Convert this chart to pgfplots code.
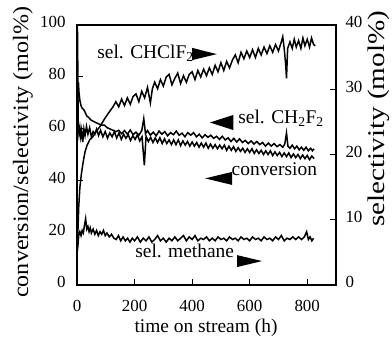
\documentclass[border=0pt]{standalone}
\usepackage{fontspec}
\setmainfont{Liberation Serif}
\usepackage{pgfplots}
\pgfplotsset{compat=1.18}
\begin{document}
\begin{tikzpicture}
\path[use as bounding box] (-77bp,-60bp) rectangle (315bp,285bp);
\begin{axis}[
  at={(0,0)}, anchor=south west,
  width=259bp, height=260bp, scale only axis,
  xmin=0, xmax=900, ymin=0, ymax=100,
  xtick={0,200,400,600,800}, ytick={0,20,40,60,80,100},
  tick pos=left, tick align=inside, major tick length=6bp,
  axis line style={line width=1.2bp},
  every tick/.style={black, line width=1bp},
  /pgf/number format/assume math mode=true,
  ticklabel style={font=\fontsize{17}{20}\selectfont},
  xticklabel style={yshift=-12bp},
  yticklabel style={xshift=-8bp, yshift=3.5bp},
  clip=false,
]
% sel. CH2F2 (left axis)
\addplot[black, line width=1.5bp] coordinates {
(2,70) (3,76) (5,78) (7,74) (10,71) (14,69) (18,68) (23,67.5) (28,66.5) (34,65) (40,64.5) (48,63.5) (56,63) (65,62.5) (75,62) (85,61.5) (95,61.5) (105,60.5) (115,60) (125,59.5) (135,59) (145,59.5)
(155,58.2) (165,59.4) (175,58.0) (185,59.6) (195,57.8) (205,58.8) (215,57.6) (225,59.4) (232,64) (238,58.2) (245,59.4) (255,57.6) (265,58.8) (275,57.4) (285,59.2) (295,58.0) (305,59.0) (315,57.4) (325,58.6) (335,57.8) (345,59.2) (355,57.6) (365,58.4) (375,57.0) (385,58.6) (395,57.6) (405,58.6) (415,57.0) (425,58.0) (435,56.6) (445,57.8) (455,56.8) (465,57.6) (475,56.4) (485,57.2) (495,56.0) (505,57.2) (515,55.8) (525,56.6) (535,55.2) (545,56.4) (555,55.0) (565,56.2) (575,54.8) (585,55.6) (595,54.4) (605,55.4) (615,54.2) (625,55.2) (635,54.0) (645,54.8) (655,53.4) (665,54.6) (675,53.4) (685,54.4) (695,53.2) (705,54.0) (715,53.0) (722,54.2) (728,58.5) (733,53.4) (740,52.6) (748,53.8) (756,52.4) (764,53.4) (772,52.0) (780,53.0) (788,51.8) (796,53.0) (804,51.6) (812,52.6) (818,51.6) (824,52.4)
};
% conversion (left axis)
\addplot[black, line width=1.5bp] coordinates {
(0,100) (2,97) (4,62) (7,58) (10,60.5) (13,57) (16,59.5) (20,55) (24,60) (28,57.5) (33,61) (38,58) (44,60.5) (50,57) (56,59) (62,58) (68,60) (75,57.5) (82,59.5) (90,57) (98,59) (106,56.5) (114,58.5) (122,57) (130,59) (138,56.5) (146,58.5) (154,56.0) (162,58.0) (170,56.4) (178,57.8) (186,55.6) (194,57.4) (202,56.0) (210,57.8) (218,55.4) (226,57.0) (234,46) (240,57.2) (248,55.2) (256,56.8) (264,54.8) (272,56.6) (280,54.8) (288,56.6) (296,54.4) (304,56.2) (312,54.4) (320,55.8) (328,54.0) (336,55.8) (344,54.0) (352,55.8) (360,53.6) (368,55.4) (376,53.8) (384,55.2) (392,53.4) (400,55.0) (408,53.4) (416,54.8) (424,53.0) (432,54.6) (440,53.0) (448,54.6) (456,52.6) (464,54.2) (472,52.6) (480,54.0) (488,52.4) (496,53.8) (504,52.4) (512,53.8) (520,51.8) (528,53.4) (536,51.8) (544,53.2) (552,51.4) (560,52.8) (568,51.4) (576,52.6) (584,51.0) (592,52.4) (600,51.0) (608,52.4) (616,50.6) (624,52.0) (632,50.6) (640,51.8) (648,50.2) (656,51.6) (664,50.2) (672,51.6) (680,49.8) (688,51.2) (696,49.8) (704,51.0) (712,49.4) (720,50.8) (728,49.4) (736,50.8) (744,49.0) (752,50.4) (760,49.0) (768,50.2) (776,48.6) (784,50.0) (792,48.6) (800,49.8) (808,48.2) (816,49.6) (824,48.6)
};
% annotations
\node[anchor=base west, inner sep=0, font=\fontsize{19.5}{22}\selectfont] at (axis cs:70,87.3) {sel. CHClF\textsubscript{2}};
\fill (axis cs:400,91.2) -- (axis cs:400,86.5) -- (axis cs:486,88.8) -- cycle;
\node[anchor=base west, inner sep=0, font=\fontsize{19.5}{22}\selectfont] at (axis cs:560,62.3) {sel. CH\textsubscript{2}F\textsubscript{2}};
\fill (axis cs:462,62.5) -- (axis cs:543,65.4) -- (axis cs:543,59.6) -- cycle;
\node[anchor=base west, inner sep=0, font=\fontsize{19.5}{22}\selectfont] at (axis cs:537,42.3) {conversion};
\fill (axis cs:445,41) -- (axis cs:539,43.5) -- (axis cs:539,38.5) -- cycle;
\node[anchor=base west, inner sep=0, font=\fontsize{19.5}{22}\selectfont] at (axis cs:202,10.4) {sel. methane};
\fill (axis cs:556,11.5) -- (axis cs:556,6.9) -- (axis cs:643,9.2) -- cycle;
\end{axis}
\begin{axis}[
  at={(0,0)}, anchor=south west,
  width=259bp, height=260bp, scale only axis,
  xmin=0, xmax=900, ymin=0, ymax=40,
  axis x line=none, axis y line*=right,
  ytick={0,10,20,30,40},
  tick align=inside, major tick length=6bp,
  axis line style={line width=1.2bp},
  every tick/.style={black, line width=1bp},
  /pgf/number format/assume math mode=true,
  ticklabel style={font=\fontsize{17}{20}\selectfont},
  yticklabel style={xshift=6bp, yshift=3bp},
  clip=false,
]
% sel. CHClF2 (right axis)
\addplot[black, line width=1.5bp] coordinates {
(0,4.8) (3,8) (6,12) (10,15) (15,17) (21,18.8) (28,20.5) (35,21.5) (45,22.4) (55,22.8) (65,23.5) (80,24.4) (95,25.5) (110,26.5) (125,27.4) (135,28.2) (145,27.4) (155,28.6) (165,27.6) (175,28.8) (185,27.8) (195,29.0) (205,29.4) (215,28.2) (225,29.8) (235,28.8) (245,30.4) (255,28.0) (262,30.2) (270,31.2) (280,30.2) (290,31.6) (300,30.6) (310,32.0) (320,32.4) (330,30.8) (340,31.8) (350,32.6) (360,31.0) (370,32.2) (380,31.2) (390,32.4) (400,32.8) (410,31.6) (420,33.0) (430,32.0) (440,33.2) (450,32.2) (460,33.4) (470,32.4) (480,33.8) (490,32.8) (500,34.2) (510,33.0) (520,34.4) (530,33.4) (540,34.6) (550,35.4) (560,34.2) (570,35.8) (580,34.8) (590,36.0) (600,35.0) (610,36.2) (620,35.0) (630,36.4) (640,35.4) (650,36.6) (660,35.6) (670,36.8) (680,35.8) (690,37.0) (700,36.0) (710,37.4) (715,38.2) (720,36.4) (725,34.0) (728,31.8) (732,36.4) (740,37.4) (748,36.4) (755,37.8) (762,36.6) (770,37.6) (778,36.4) (785,38.0) (792,36.8) (800,37.8) (808,36.6) (815,38.0) (822,37.0) (828,36.8)
};
% sel. methane (right axis)
\addplot[black, line width=1.5bp] coordinates {
(0,4.8) (3,6.0) (6,7.6) (10,8.2) (14,7.6) (18,8.4) (22,8.0) (26,9.2) (30,10.2) (34,8.6) (38,9.0) (42,8.2) (46,8.8) (50,8.0) (56,8.6) (62,7.8) (68,8.4) (74,7.6) (80,8.2) (86,7.8) (92,8.4) (98,7.6) (104,8.0) (112,7.4) (120,7.8) (128,7.2) (136,7.0) (144,7.6) (152,6.8) (160,7.4) (168,6.8) (176,7.2) (184,6.6) (192,7.2) (200,6.8) (210,7.4) (220,6.6) (230,7.2) (240,6.8) (250,7.4) (260,6.6) (270,7.0) (280,7.6) (290,6.8) (300,7.2) (310,6.6) (320,7.2) (330,6.8) (340,7.4) (350,6.8) (360,7.2) (370,7.6) (380,6.8) (390,7.4) (400,7.0) (410,7.6) (420,6.8) (430,7.2) (440,7.0) (450,7.4) (460,6.8) (470,7.2) (480,6.8) (490,7.4) (500,7.0) (510,7.2) (520,6.8) (530,7.4) (540,7.0) (550,7.2) (560,6.8) (570,7.4) (580,7.0) (590,7.2) (600,6.8) (610,7.4) (620,7.0) (630,7.2) (640,6.8) (650,7.4) (660,7.0) (670,7.2) (680,6.8) (690,7.4) (700,7.0) (710,7.6) (720,6.8) (730,7.2) (740,7.0) (750,7.4) (760,7.0) (770,7.4) (780,7.0) (790,7.4) (798,8.2) (804,7.0) (810,7.4) (816,6.8) (822,7.2)
};
\end{axis}
\node[anchor=base, inner sep=0, font=\fontsize{19.5}{22}\selectfont] at (129bp,-47bp) {time on stream (h)};
\node[rotate=90, anchor=west, inner sep=0, font=\fontsize{22}{24}\selectfont] at (-54bp,-13bp) {\scalebox{1.10}[1]{conversion/selectivity (mol\%)}};
\node[rotate=90, anchor=west, inner sep=0, font=\fontsize{24}{26}\selectfont] at (302bp,58bp) {\scalebox{1.219}[1]{selectivity (mol\%)}};
\end{tikzpicture}
\end{document}
